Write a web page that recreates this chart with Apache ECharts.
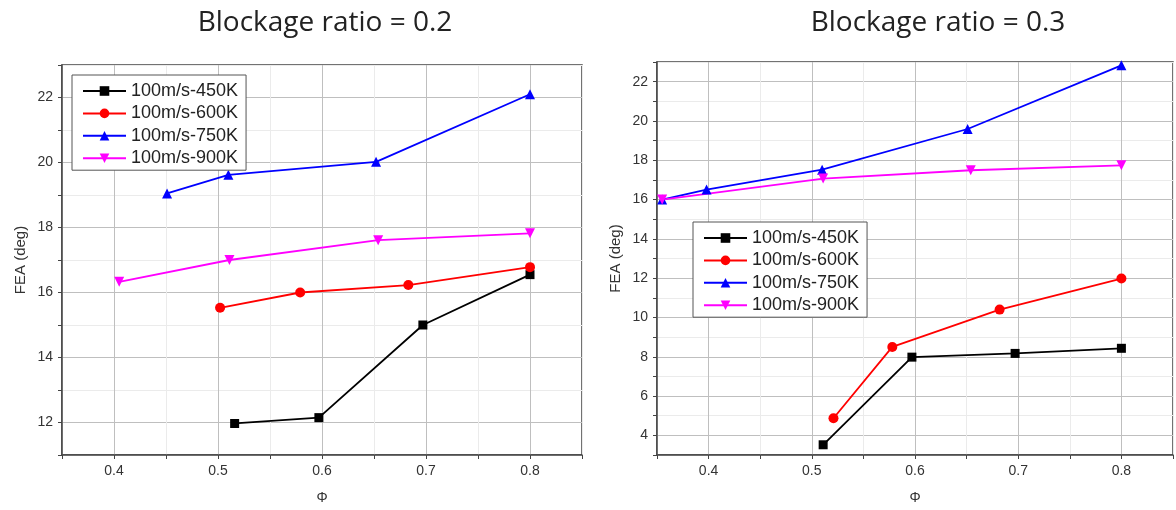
<!DOCTYPE html>
<html>
<head>
<meta charset="utf-8">
<script src="https://cdn.jsdelivr.net/npm/echarts@6/dist/echarts.min.js"></script>
<style>html,body{margin:0;padding:0;background:#fff;}#c{width:1176px;height:510px;}</style>
</head>
<body>
<div id="c"></div>
<script>
const seriesNames = ['100m/s-450K', '100m/s-600K', '100m/s-750K', '100m/s-900K'];
const titles = ['Blockage ratio = 0.2', 'Blockage ratio = 0.3'];

// Blockage ratio = 0.2
const left450X = [0.516, 0.597, 0.697, 0.8];
const left450Y = [11.97, 12.15, 15.0, 16.55];
const left600X = [0.502, 0.579, 0.683, 0.8];
const left600Y = [15.53, 16.0, 16.23, 16.78];
const left750X = [0.451, 0.51, 0.652, 0.8];
const left750Y = [19.05, 19.62, 20.02, 22.1];
const left900X = [0.405, 0.511, 0.654, 0.8];
const left900Y = [16.33, 17.0, 17.61, 17.82];

// Blockage ratio = 0.3
const right450X = [0.511, 0.597, 0.697, 0.8];
const right450Y = [3.52, 7.98, 8.17, 8.43];
const right600X = [0.521, 0.578, 0.682, 0.8];
const right600Y = [4.87, 8.5, 10.4, 11.98];
const right750X = [0.355, 0.398, 0.51, 0.651, 0.8];
const right750Y = [16.0, 16.51, 17.52, 19.59, 22.83];
const right900X = [0.355, 0.511, 0.654, 0.8];
const right900Y = [16.0, 17.07, 17.49, 17.74];

const colors = ['#000000', '#ff0000', '#0000ff', '#ff00ff'];
const symbols = ['rect', 'circle', 'triangle', 'triangle'];
const rotates = [0, 0, 0, 180];
const sizes = [9, 10, 10, 10];

function zip(xs, ys) { return xs.map((x, i) => [x, ys[i]]); }

const leftData = [zip(left450X, left450Y), zip(left600X, left600Y), zip(left750X, left750Y), zip(left900X, left900Y)];
const rightData = [zip(right450X, right450Y), zip(right600X, right600Y), zip(right750X, right750Y), zip(right900X, right900Y)];

const txt = '#333';
const axisFont = 'Liberation Sans, Arial, sans-serif';
const gridColors = ['#ebebeb', '#bfbfbf'];

function xAxis(idx) {
  return {
    type: 'value', gridIndex: idx, min: 0.35, max: 0.85, interval: 0.05,
    name: 'Φ', nameLocation: 'middle', nameGap: 36,
    nameTextStyle: {fontSize: 14, color: txt, fontFamily: axisFont},
    axisLine: {show: true, lineStyle: {color: '#444', width: 1.5}},
    axisTick: {show: true, length: 4, lineStyle: {color: '#444'}},
    axisLabel: {
      fontSize: 14, color: txt, fontFamily: axisFont, margin: 9,
      formatter: function (v) {
        const t = Math.round(v * 100);
        if (t % 10 !== 0 || t < 40 || t > 80) return '';
        return (t / 100).toFixed(1);
      }
    },
    splitLine: {show: true, lineStyle: {color: gridColors, width: 1}}
  };
}
function yAxis(idx, min, max) {
  return {
    type: 'value', gridIndex: idx, min: min, max: max, interval: 1,
    name: 'FEA (deg)', nameLocation: 'middle', nameGap: 34,
    nameTextStyle: {fontSize: 15, color: txt, fontFamily: axisFont},
    axisLine: {show: true, lineStyle: {color: '#444', width: 1.5}},
    axisTick: {show: true, length: 4, lineStyle: {color: '#444'}},
    axisLabel: {
      fontSize: 14, color: txt, fontFamily: axisFont, margin: 9,
      formatter: function (v) { return (Math.round(v) % 2 === 0) ? String(Math.round(v)) : ''; }
    },
    splitLine: {show: true, lineStyle: {color: gridColors, width: 1}}
  };
}

const series = [];
[leftData, rightData].forEach(function (dataSet, g) {
  dataSet.forEach(function (d, i) {
    series.push({
      type: 'line', name: seriesNames[i], xAxisIndex: g, yAxisIndex: g,
      data: d, symbol: symbols[i], symbolSize: sizes[i], symbolRotate: rotates[i],
      showSymbol: true, animation: false,
      lineStyle: {color: colors[i], width: 1.8},
      itemStyle: {color: colors[i]}
    });
  });
});

function legend(left, top) {
  return {
    data: seriesNames, orient: 'vertical', left: left, top: top,
    itemWidth: 43, itemHeight: 12, itemGap: 4.4,
    padding: [7, 8, 3, 10],
    backgroundColor: '#fff', borderColor: '#555', borderWidth: 1,
    textStyle: {fontSize: 18, color: '#222', fontFamily: axisFont},
    selectedMode: false
  };
}

const chart = echarts.init(document.getElementById('c'), null, {renderer: 'canvas'});
chart.setOption({
  backgroundColor: '#fff',
  animation: false,
  title: [
    {text: titles[0], left: 320, top: 4, textAlign: 'center',
     textStyle: {fontSize: 28, fontWeight: 'normal', color: '#222', fontFamily: 'Open Sans, sans-serif'}},
    {text: titles[1], left: 933, top: 4, textAlign: 'center',
     textStyle: {fontSize: 28, fontWeight: 'normal', color: '#222', fontFamily: 'Open Sans, sans-serif'}}
  ],
  legend: [legend(72, 75), legend(693, 222)],
  grid: [
    {left: 62, top: 65, width: 520, height: 390, show: true, borderColor: '#444', borderWidth: 1.5, backgroundColor: 'transparent'},
    {left: 657, top: 62, width: 524, height: 393, show: true, borderColor: '#444', borderWidth: 1.5, backgroundColor: 'transparent'}
  ],
  xAxis: [xAxis(0), xAxis(1)],
  yAxis: [yAxis(0, 11, 23), yAxis(1, 3, 23)],
  series: series
});
</script>
</body>
</html>
